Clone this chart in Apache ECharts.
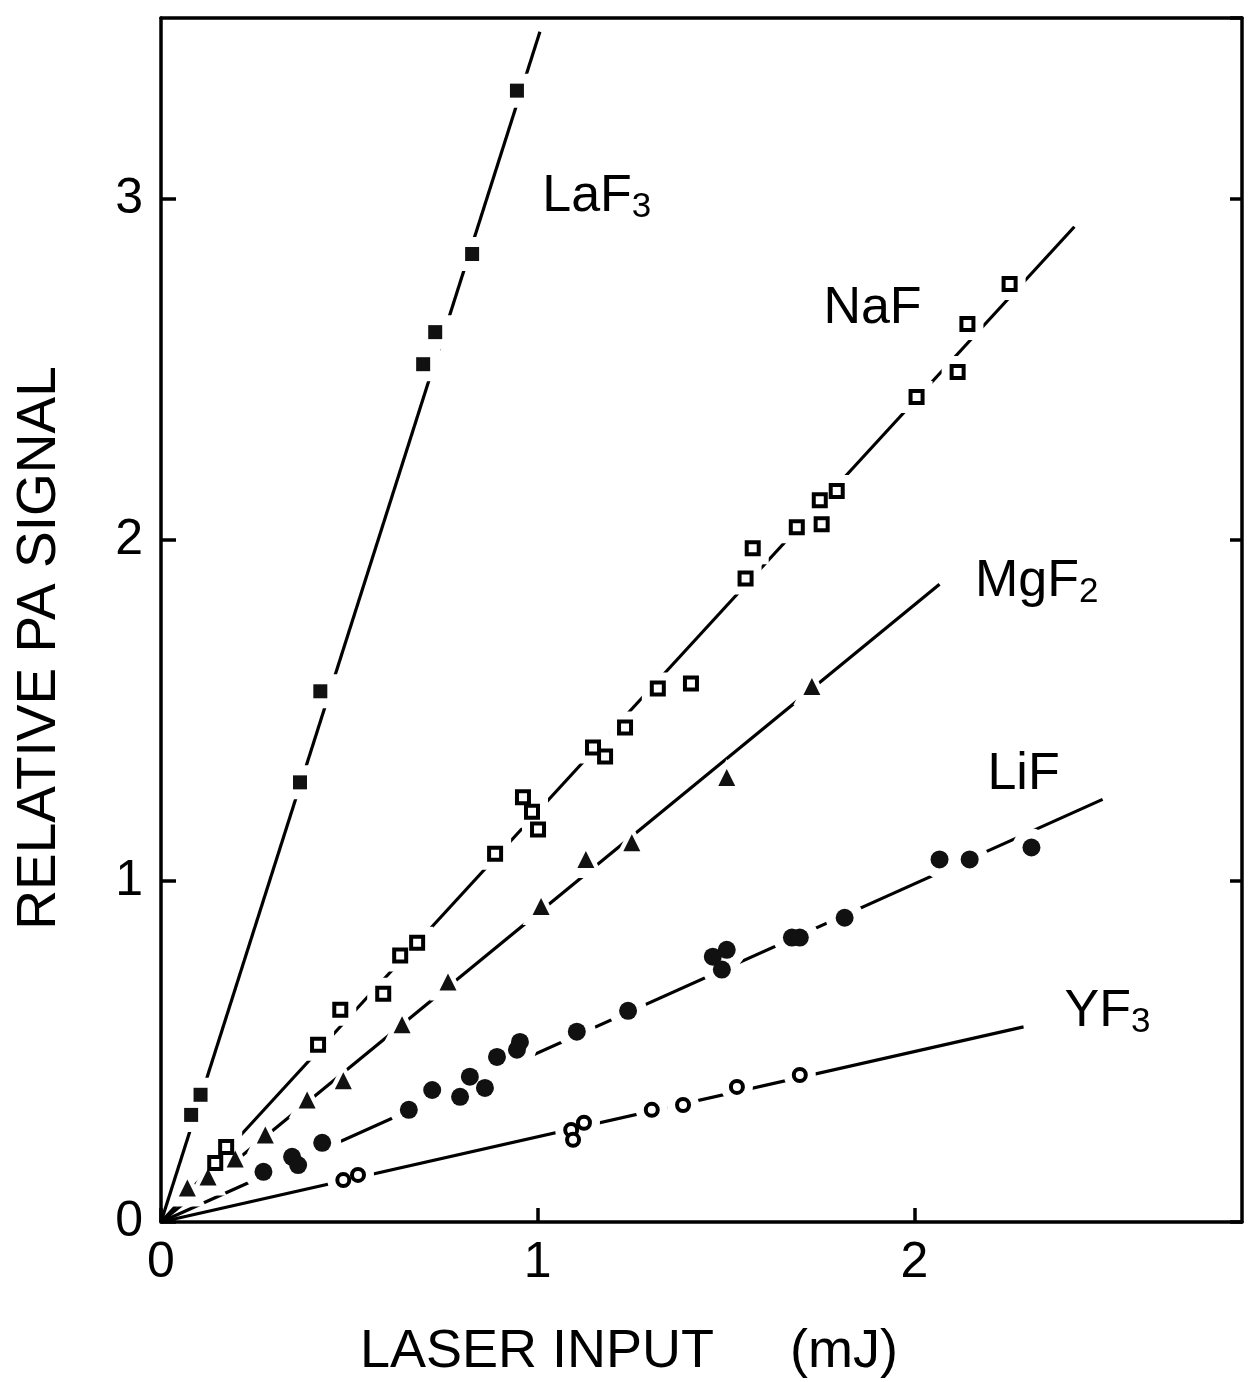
<!DOCTYPE html>
<html>
<head>
<meta charset="utf-8">
<script src="https://cdn.jsdelivr.net/npm/echarts@6/dist/echarts.min.js"></script>
<style>
  html, body { margin: 0; padding: 0; background: #fff; }
  #chart { width: 1258px; height: 1382px; }
</style>
</head>
<body>
<div id="chart"></div>
<script>
// measured points, [laser input mJ, relative PA signal]
var laf3 = [[0.080, 0.314], [0.105, 0.373], [0.369, 1.289], [0.423, 1.556], [0.696, 2.515],
  [0.728, 2.609], [0.826, 2.838], [0.945, 3.317]];
var naf = [[0.144, 0.173], [0.173, 0.220], [0.417, 0.520], [0.476, 0.622], [0.590, 0.669],
  [0.635, 0.781], [0.680, 0.819], [0.887, 1.080], [0.961, 1.245], [0.985, 1.203],
  [1.001, 1.151], [1.147, 1.391], [1.179, 1.365], [1.232, 1.450], [1.319, 1.564],
  [1.407, 1.579], [1.552, 1.887], [1.571, 1.975], [1.688, 2.037], [1.749, 2.116],
  [1.754, 2.046], [1.794, 2.143], [2.006, 2.419], [2.115, 2.492], [2.141, 2.633],
  [2.253, 2.750]];
var mgf2 = [[0.070, 0.100], [0.125, 0.132], [0.197, 0.185], [0.277, 0.255], [0.388, 0.358],
  [0.484, 0.414], [0.640, 0.578], [0.762, 0.704], [1.009, 0.925], [1.128, 1.063],
  [1.250, 1.112], [1.502, 1.303], [1.728, 1.570]];
var lif = [[0.272, 0.147], [0.348, 0.191], [0.364, 0.167], [0.428, 0.232], [0.658, 0.329],
  [0.720, 0.387], [0.794, 0.367], [0.820, 0.426], [0.860, 0.393], [0.892, 0.484],
  [0.945, 0.505], [0.953, 0.528], [1.104, 0.558], [1.240, 0.619], [1.465, 0.778],
  [1.502, 0.798], [1.489, 0.740], [1.675, 0.834], [1.696, 0.834], [1.815, 0.892],
  [2.067, 1.063], [2.147, 1.063], [2.311, 1.098]];
var yf3 = [[0.484, 0.123], [0.523, 0.138], [1.089, 0.270], [1.123, 0.291], [1.094, 0.241],
  [1.303, 0.329], [1.386, 0.343], [1.529, 0.396], [1.696, 0.431]];

// fitted lines through the origin (end points)
var fitLaf3 = [[0, 0], [1.006, 3.49]];
var fitNaf = [[0, 0], [2.425, 2.918]];
var fitMgf2 = [[0, 0], [2.067, 1.870]];
var fitLif = [[0, 0], [2.50, 1.239]];
var fitYf3 = [[0, 0], [2.29, 0.572]];

// curve names and where they sit
var curveNames = ['{n|LaF}{s|3}', '{n|NaF}', '{n|MgF}{s|2}', '{n|LiF}', '{n|YF}{s|3}'];
var curveNameAt = [[1.157, 3.006], [1.889, 2.677], [2.325, 1.878], [2.29, 1.312], [2.513, 0.616]];

var xTicks = [0, 1, 2];
var yTicks = [0, 1, 2, 3];
var xMax = 2.87, yMax = 3.53;

var FONT = '"Liberation Sans", "DejaVu Sans", sans-serif';
var INK = '#000';

function tickFmt(list) {
  return function (v) {
    return list.indexOf(v) >= 0 ? String(v) : '';
  };
}

function fitLine(d) {
  return { type: 'line', data: d, symbol: 'none', z: 2, silent: true,
    lineStyle: { color: INK, width: 3.2 } };
}
// white ring under each marker so the line breaks around it
function halo(d, sym, size) {
  return { type: 'scatter', data: d, symbol: sym, symbolSize: size + 20, z: 3, silent: true,
    itemStyle: { color: '#fff', opacity: 1 } };
}
function marks(d, sym, size, filled) {
  return { type: 'scatter', data: d, symbol: sym, symbolSize: size, z: 4, silent: true,
    itemStyle: filled ? { color: '#111', opacity: 1 }
      : { color: '#fff', borderColor: INK, borderWidth: 4, opacity: 1 } };
}

var chart = echarts.init(document.getElementById('chart'));

var axLine = { show: true, onZero: false, lineStyle: { color: INK, width: 3.5 } };
var tickLbl = { color: INK, fontSize: 50, fontFamily: FONT };

chart.setOption({
  animation: false,
  backgroundColor: '#fff',
  grid: { left: 161, right: 16, top: 18, bottom: 160 },
  xAxis: [
    { type: 'value', min: 0, max: xMax, interval: 1, position: 'bottom',
      axisLine: axLine,
      axisTick: { show: true, inside: true, length: 14, lineStyle: { color: INK, width: 3.5 } },
      axisLabel: Object.assign({ margin: 16, showMaxLabel: false, formatter: tickFmt(xTicks) }, tickLbl),
      splitLine: { show: false } },
    { type: 'value', min: 0, max: xMax, position: 'top',
      axisLine: axLine, axisTick: { show: false }, axisLabel: { show: false }, splitLine: { show: false } }
  ],
  yAxis: [
    { type: 'value', min: 0, max: yMax, interval: 1, position: 'left',
      axisLine: axLine,
      axisTick: { show: true, inside: true, length: 15, lineStyle: { color: INK, width: 3.5 } },
      axisLabel: Object.assign({ margin: 18, showMaxLabel: false, formatter: tickFmt(yTicks) }, tickLbl),
      splitLine: { show: false } },
    { type: 'value', min: 0, max: yMax, interval: 1, position: 'right',
      axisLine: axLine,
      axisTick: { show: true, inside: true, length: 12, lineStyle: { color: INK, width: 3.5 } },
      axisLabel: { show: false }, splitLine: { show: false } }
  ],
  graphic: [
    { type: 'text', x: 360, y: 1352,
      style: { text: 'LASER INPUT', fontSize: 54, fontFamily: FONT, fill: INK, align: 'left', verticalAlign: 'middle' } },
    { type: 'text', x: 790, y: 1352,
      style: { text: '(mJ)', fontSize: 54, fontFamily: FONT, fill: INK, align: 'left', verticalAlign: 'middle' } },
    { type: 'text', x: 40, y: 648, rotation: Math.PI / 2,
      style: { text: 'RELATIVE PA SIGNAL', fontSize: 55, fontFamily: FONT, fill: INK, align: 'center', verticalAlign: 'middle' } }
  ],
  series: [
    fitLine(fitLaf3), fitLine(fitNaf), fitLine(fitMgf2), fitLine(fitLif), fitLine(fitYf3),
    halo(laf3, 'rect', 14), halo(naf, 'rect', 12), halo(mgf2, 'triangle', 17),
    halo(lif, 'circle', 18), halo(yf3, 'circle', 12),
    marks(laf3, 'rect', 14, true), marks(naf, 'rect', 12, false), marks(mgf2, 'triangle', 17, true),
    marks(lif, 'circle', 18, true), marks(yf3, 'circle', 12, false),
    { type: 'scatter', data: curveNameAt, symbolSize: 0, z: 5, silent: true,
      itemStyle: { opacity: 1 },
      label: { show: true, position: 'inside', color: INK, opacity: 1,
        formatter: function (p) { return curveNames[p.dataIndex]; },
        rich: {
          n: { fontSize: 52, fontFamily: FONT, color: INK, lineHeight: 56 },
          s: { fontSize: 35, fontFamily: FONT, color: INK, verticalAlign: 'bottom' }
        } } }
  ]
});
</script>
</body>
</html>
